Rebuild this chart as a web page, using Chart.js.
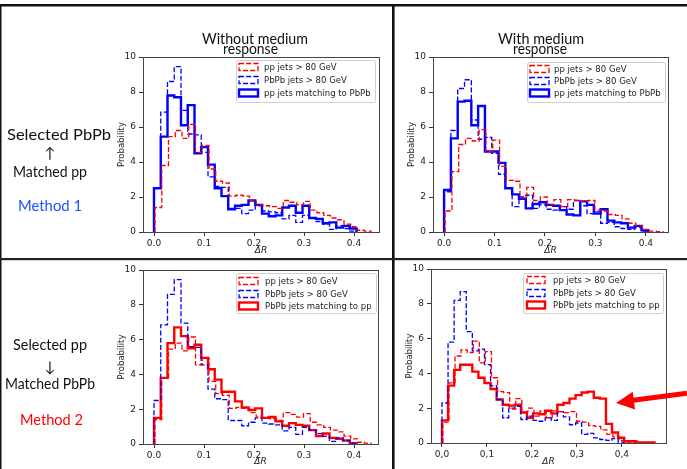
<!DOCTYPE html>
<html><head><meta charset="utf-8">
<script src="https://cdn.jsdelivr.net/npm/chart.js@4.4.1/dist/chart.umd.min.js"></script>
<style>
html,body{margin:0;padding:0;background:#fff;}
#wrap{position:relative;width:687px;height:469px;overflow:hidden;background:#fff}
canvas{position:absolute;left:0;top:0}
svg{position:absolute;left:0;top:0}
.lab{font-family:Lato,"DejaVu Sans",sans-serif;font-size:14.5px;fill:#111}
</style></head><body>
<div id="wrap">
<canvas id="c1" width="687" height="469"></canvas>
<canvas id="c2" width="687" height="469"></canvas>
<canvas id="c3" width="687" height="469"></canvas>
<canvas id="c4" width="687" height="469"></canvas>
<svg width="687" height="469" viewBox="0 0 687 469">
  <rect x="0" y="4" width="687" height="2.5" fill="#111"/>
  <rect x="0" y="4" width="1.5" height="465" fill="#111"/>
  <rect x="392" y="6" width="2.6" height="463" fill="#111"/>
  <rect x="0" y="258" width="687" height="2.2" fill="#222"/>
  <text class="lab" x="202" y="44" textLength="106" lengthAdjust="spacingAndGlyphs">Without medium</text>
  <text class="lab" x="223" y="54" textLength="55" lengthAdjust="spacingAndGlyphs">response</text>
  <text class="lab" x="498" y="44" textLength="86" lengthAdjust="spacingAndGlyphs">With medium</text>
  <text class="lab" x="513" y="54" textLength="54" lengthAdjust="spacingAndGlyphs">response</text>
  <text class="lab" x="7" y="140" textLength="104" lengthAdjust="spacingAndGlyphs" style="font-size:15.5px">Selected PbPb</text>
  <text class="lab" x="50" y="158" text-anchor="middle">↑</text>
  <text class="lab" x="13" y="177" textLength="74" lengthAdjust="spacingAndGlyphs">Matched pp</text>
  <text class="lab" x="18" y="211" textLength="64" lengthAdjust="spacingAndGlyphs" style="fill:#1e50ff">Method 1</text>
  <text class="lab" x="13" y="350" textLength="74" lengthAdjust="spacingAndGlyphs">Selected pp</text>
  <text class="lab" x="50" y="372" text-anchor="middle">↓</text>
  <text class="lab" x="5" y="389" textLength="90" lengthAdjust="spacingAndGlyphs">Matched PbPb</text>
  <text class="lab" x="20" y="425" textLength="63" lengthAdjust="spacingAndGlyphs" style="fill:#ff0000">Method 2</text>
  <line x1="687" y1="393.2" x2="633" y2="400.2" stroke="#ff0000" stroke-width="5"/>
  <polygon points="616,403 632.7,391.8 635,409.6" fill="#ff0000"/>
</svg>
</div>
<script>
// ---------------- DATA ----------------
const binWidth = 0.0135;
const xTickValues = [0, 0.1, 0.2, 0.3, 0.4];
const xTickLabelsDot = ['0.0', '0.1', '0.2', '0.3', '0.4'];
const xTickLabelsComma = ['0,0', '0,1', '0,2', '0,3', '0,4'];
const yTickStep = 2;

const labelPpAll = 'pp jets > 80 GeV';
const labelPbPbAll = 'PbPb jets > 80 GeV';
const labelPpMatch = 'pp jets matching to PbPb';
const labelPbPbMatch = 'PbPb jets matching to pp';

// without medium response
const ppAllNoMRStart = 0.002;
const ppAllNoMR = [1.4, 3.8, 5.45, 5.8, 5.35, 6.15, 4.55, 4.95, 3.6, 2.9, 2.8, 2.05, 2.1, 2.05, 1.8, 1.55, 1.5, 1.45, 1.35, 1.8, 1.7, 1.55, 1.75, 1.25, 1.1, 0.95, 0.8, 0.7, 0.45, 0.3, 0.1, 0.05];
const pbpbAllNoMRStart = 0.0;
const pbpbAllNoMR = [2.5, 6.85, 8.6, 9.45, 6.95, 5.6, 5.55, 4.55, 3.15, 2.6, 2.55, 1.35, 1.35, 1.05, 1.25, 1.5, 1.2, 1.15, 1.1, 0.75, 0.95, 0.55, 0.95, 0.8, 0.6, 0.45, 0.15, 0.35, 0.2, 0.05];
const ppMatchNoMRStart = 0.0;
const ppMatchNoMR = [2.5, 5.45, 7.8, 7.7, 6.1, 7.25, 4.5, 4.85, 3.85, 2.5, 2.05, 1.3, 1.5, 1.55, 1.8, 1.55, 1.05, 0.9, 0.95, 1.4, 1.5, 1.1, 1.5, 0.8, 0.75, 0.5, 0.55, 0.25, 0.35, 0.2];
const pbpbMatchNoMRStart = 0.0;
const pbpbMatchNoMR = [1.5, 3.8, 5.8, 6.7, 6.2, 5.5, 5.7, 4.95, 4.3, 3.7, 3.0, 3.0, 2.45, 2.1, 1.95, 2.05, 1.5, 1.55, 1.3, 1.05, 1.2, 1.1, 1.05, 0.8, 0.45, 0.6, 0.35, 0.3, 0.2, 0.05];

// with medium response
const ppAllMRStart = 0.002;
const ppAllMR = [1.2, 3.45, 5.0, 5.35, 5.2, 5.85, 4.6, 5.25, 3.75, 2.95, 2.9, 1.95, 2.55, 1.8, 2.0, 1.55, 1.85, 1.45, 1.85, 1.8, 1.75, 1.8, 1.25, 1.2, 1.0, 0.95, 0.75, 0.5, 0.35, 0.15, 0.05, 0.02];
const pbpbAllMRStart = 0.0;
const pbpbAllMR = [2.3, 5.8, 8.2, 8.7, 6.4, 5.3, 5.4, 4.5, 3.3, 2.5, 1.45, 2.0, 2.1, 1.35, 1.55, 1.3, 1.25, 1.45, 1.3, 1.8, 1.5, 1.05, 1.15, 0.5, 0.55, 0.3, 0.2, 0.15, 0.25, 0.05];
const ppMatchMRStart = 0.0;
const ppMatchMR = [2.4, 5.35, 7.45, 7.5, 6.1, 7.2, 4.6, 4.6, 3.95, 2.5, 2.15, 1.9, 1.35, 1.6, 1.7, 1.55, 1.5, 1.25, 1.0, 0.95, 1.75, 1.55, 1.05, 1.3, 0.65, 0.55, 0.5, 0.25, 0.35, 0.1];
const pbpbMatchMRStart = 0.0;
const pbpbMatchMR = [1.3, 3.3, 4.2, 4.5, 4.5, 4.1, 3.75, 3.45, 3.1, 2.5, 2.2, 2.15, 2.2, 1.75, 1.45, 1.7, 1.65, 1.85, 1.7, 2.2, 2.3, 2.55, 2.75, 2.9, 2.95, 2.6, 2.55, 1.1, 0.6, 0.3, 0.1, 0.1, 0.03, 0.03, 0.03];

// ---------------- HELPERS ----------------
function stepPoints(start, values) {
  const pts = [{x: start, y: 0}];
  values.forEach((v, i) => pts.push({x: start + i * binWidth, y: v}));
  pts.push({x: start + values.length * binWidth, y: values[values.length - 1]});
  pts.push({x: start + values.length * binWidth, y: 0});
  return pts;
}
const RED = '#ff0000', BLUE = '#0000ff';
const DASH = [5, 2.2];
function dashedDs(label, color, start, values) {
  return {label, data: stepPoints(start, values), borderColor: color, borderWidth: 1.3, borderDash: DASH,
    stepped: 'before', pointRadius: 0, fill: false, tension: 0, borderJoinStyle: 'miter'};
}
function solidDs(label, color, start, values) {
  return {label, data: stepPoints(start, values), borderColor: color, borderWidth: 2.4, borderDash: [],
    stepped: 'before', pointRadius: 0, fill: false, tension: 0, borderJoinStyle: 'miter'};
}

const framePlugin = {
  id: 'frame',
  afterDatasetsDraw(chart) {
    const a = chart.chartArea, ctx = chart.ctx;
    ctx.save();
    ctx.strokeStyle = '#444'; ctx.lineWidth = 1; ctx.setLineDash([]);
    ctx.strokeRect(Math.round(a.left) + 0.5, Math.round(a.top) + 0.5, Math.round(a.right - a.left), Math.round(a.bottom - a.top));
    ctx.restore();
  }
};
const boxLegend = {
  id: 'boxLegend',
  afterDraw(chart, args, o) {
    const ctx = chart.ctx;
    ctx.save();
    const x = o.x + 0.5, y = o.y + 0.5, w = o.w, h = o.h, r = 2;
    ctx.beginPath();
    ctx.moveTo(x + r, y); ctx.lineTo(x + w - r, y); ctx.quadraticCurveTo(x + w, y, x + w, y + r);
    ctx.lineTo(x + w, y + h - r); ctx.quadraticCurveTo(x + w, y + h, x + w - r, y + h);
    ctx.lineTo(x + r, y + h); ctx.quadraticCurveTo(x, y + h, x, y + h - r);
    ctx.lineTo(x, y + r); ctx.quadraticCurveTo(x, y, x + r, y); ctx.closePath();
    ctx.fillStyle = 'rgba(255,255,255,0.85)'; ctx.fill();
    ctx.strokeStyle = '#cfcfcf'; ctx.lineWidth = 1; ctx.stroke();
    chart.data.datasets.forEach((ds, i) => {
      const ry = o.y + o.rows[i];
      ctx.setLineDash(ds.borderDash || []);
      ctx.lineWidth = ds.borderWidth; ctx.strokeStyle = ds.borderColor;
      ctx.strokeRect(o.x + o.hx, ry - 3.5, o.hw, 7);
      ctx.setLineDash([]);
      ctx.fillStyle = '#222'; ctx.font = '8.5px "DejaVu Sans"'; ctx.textBaseline = 'middle'; ctx.textAlign = 'left';
      ctx.fillText(ds.label, o.x + o.tx, ry + 0.5);
    });
    ctx.restore();
  }
};

const tickFont = {family: 'DejaVu Sans', size: 9};
function makeChart(id, p) {
  const padLeft = p.yTitleX - 5.1;
  new Chart(document.getElementById(id), {
    type: 'line',
    data: {datasets: p.datasets},
    plugins: [framePlugin, boxLegend],
    options: {
      responsive: false, animation: false, devicePixelRatio: 1,
      layout: {padding: {left: padLeft, top: p.area.top, right: 687 - p.area.right, bottom: 469 - p.xScaleBottom}},
      plugins: {legend: {display: false}, tooltip: {enabled: false}, boxLegend: p.legend},
      scales: {
        x: {
          type: 'linear', min: p.xMin, max: p.xMax,
          afterBuildTicks: s => { s.ticks = xTickValues.map(v => ({value: v})); },
          afterFit: s => { s.height = p.xScaleBottom - p.area.bottom; },
          ticks: {callback: (v, i) => p.xLabels[i], font: tickFont, color: '#222', padding: 2, maxRotation: 0, autoSkip: false},
          grid: {display: true, drawOnChartArea: false, drawTicks: true, tickLength: 4, color: '#333', tickColor: '#333', lineWidth: 1},
          border: {display: false},
          title: {display: true, text: 'ΔR', font: {family: 'DejaVu Sans', size: 9, style: 'italic'}, color: '#222', padding: {top: 0, bottom: 0}}
        },
        y: {
          min: 0, max: 10,
          afterFit: s => { s.width = p.area.left - padLeft; },
          ticks: {stepSize: yTickStep, font: tickFont, color: '#222', padding: 3},
          grid: {display: true, drawOnChartArea: false, drawTicks: true, tickLength: 4, color: '#333', tickColor: '#333', lineWidth: 1},
          border: {display: false},
          title: {display: true, text: 'Probability', font: {family: 'DejaVu Sans', size: 8.5}, color: '#222', padding: {top: 0, bottom: 0}}
        }
      }
    }
  });
}

makeChart('c1', {
  area: {left: 143, top: 57, right: 379, bottom: 232}, xScaleBottom: 256, yTitleX: 122,
  xMin: -0.022, xMax: 0.45, xLabels: xTickLabelsDot,
  legend: {x: 236, y: 60, w: 139, h: 42, rows: [7, 20, 33], hx: 3, hw: 19, tx: 28},
  datasets: [
    dashedDs(labelPpAll, RED, ppAllNoMRStart, ppAllNoMR),
    dashedDs(labelPbPbAll, BLUE, pbpbAllNoMRStart, pbpbAllNoMR),
    solidDs(labelPpMatch, BLUE, ppMatchNoMRStart, ppMatchNoMR)
  ]
});
makeChart('c2', {
  area: {left: 433, top: 57, right: 668, bottom: 232}, xScaleBottom: 256, yTitleX: 411.5,
  xMin: -0.022, xMax: 0.444, xLabels: xTickLabelsDot,
  legend: {x: 527, y: 62, w: 138, h: 40, rows: [7, 19, 31], hx: 3, hw: 19, tx: 27},
  datasets: [
    dashedDs(labelPpAll, RED, ppAllMRStart, ppAllMR),
    dashedDs(labelPbPbAll, BLUE, pbpbAllMRStart, pbpbAllMR),
    solidDs(labelPpMatch, BLUE, ppMatchMRStart, ppMatchMR)
  ]
});
makeChart('c3', {
  area: {left: 143, top: 270, right: 378, bottom: 444}, xScaleBottom: 467, yTitleX: 121.5,
  xMin: -0.022, xMax: 0.448, xLabels: xTickLabelsDot,
  legend: {x: 236, y: 273, w: 140, h: 40, rows: [8, 21, 33], hx: 3, hw: 19, tx: 29},
  datasets: [
    dashedDs(labelPpAll, RED, ppAllNoMRStart, ppAllNoMR),
    dashedDs(labelPbPbAll, BLUE, pbpbAllNoMRStart, pbpbAllNoMR),
    solidDs(labelPbPbMatch, RED, pbpbMatchNoMRStart, pbpbMatchNoMR)
  ]
});
makeChart('c4', {
  area: {left: 431, top: 269, right: 666, bottom: 443}, xScaleBottom: 467, yTitleX: 410,
  xMin: -0.0244, xMax: 0.498, xLabels: xTickLabelsComma,
  legend: {x: 523, y: 273, w: 140, h: 40, rows: [7, 20, 32], hx: 4, hw: 18, tx: 30},
  datasets: [
    dashedDs(labelPpAll, RED, ppAllMRStart, ppAllMR),
    dashedDs(labelPbPbAll, BLUE, pbpbAllMRStart, pbpbAllMR),
    solidDs(labelPbPbMatch, RED, pbpbMatchMRStart, pbpbMatchMR)
  ]
});
</script>
</body></html>
